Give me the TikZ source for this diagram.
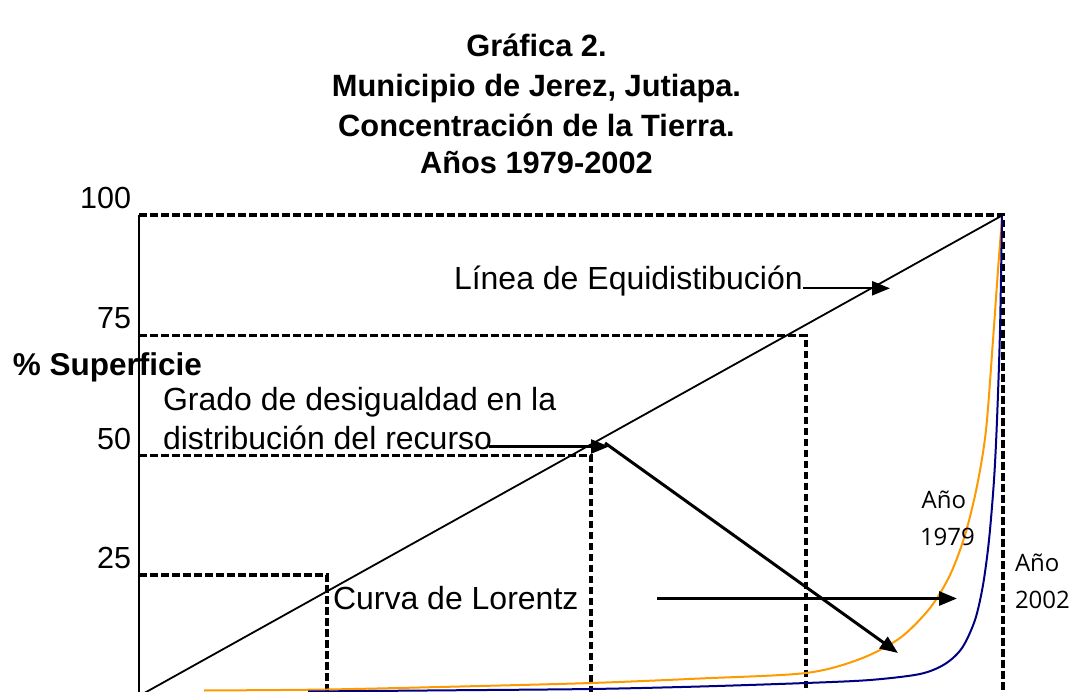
\documentclass[tikz,border=0pt]{standalone}
\usepackage{fontspec}
\setmainfont{Liberation Sans}
\newfontfamily\yearfont{Open Sans}
\usetikzlibrary{arrows.meta}
\definecolor{curveorange}{RGB}{255,153,0}
\definecolor{curveblue}{RGB}{0,0,128}
\begin{document}
\begin{tikzpicture}[x=1pt,y=-1pt,
  lbl/.style={inner sep=0pt, outer sep=0pt, font=\fontsize{32}{38}\selectfont},
  num/.style={inner sep=0pt, outer sep=0pt, anchor=base east, font=\fontsize{30.5}{36}\selectfont},
  ttl/.style={inner sep=0pt, outer sep=0pt, anchor=base, font=\fontsize{30.8}{36}\selectfont\bfseries},
  yr/.style={inner sep=0pt, outer sep=0pt, anchor=base west, font=\yearfont\fontsize{24}{28}\selectfont},
  gridline/.style={line width=3.3pt, dash pattern=on 7.5pt off 3.5pt},
  arr/.style={line width=3pt, -{Triangle[length=18pt,width=14pt]}},
  curve/.style={line width=2pt, line join=round}
]
\useasboundingbox (0,0) rectangle (1073,692);
\clip (0,0) rectangle (1073,692);

% title
\node[ttl] (t1) at (536.5,57) {Gráfica 2.};
\node[ttl] (t2) at (536.5,97) {Municipio de Jerez, Jutiapa.};
\node[ttl] (t3) at (536.5,137) {Concentración de la Tierra.};
\node[ttl] (t4) at (536.5,174) {Años 1979-2002};

% key points
\coordinate (O) at (139,696);
\coordinate (T) at (1003,215);
\coordinate (A) at (139,215);

% dashed guide lines
\draw[gridline] (139,215) -- (1003,215) -- (1003,692);
\draw[gridline] (139,335.7) -- (806,335.7) -- (806,692);
\draw[gridline] (139,455.7) -- (591,455.7) -- (591,692);
\draw[gridline] (139,575) -- (327,575) -- (327,692);

% y axis
\draw[line width=2.8pt] (A) -- (O);

% Lorenz curves
\draw[curve, curveorange] plot[smooth, tension=0.5] coordinates {
  (204,690.5) (327,689.5) (460,686.5) (591,683) (700,678.5) (806,673)
  (860,659) (900,638) (930,608) (950,575) (965,535) (977,486)
  (986,430) (993,340) (998,270) (1002,218)};
\draw[curve, curveblue] plot[smooth, tension=0.5] coordinates {
  (308,691.5) (450,690.3) (591,689) (700,686.5) (806,683) (870,680)
  (920,674) (945,664) (962,648) (975,620) (983,585) (989,540)
  (994,480) (997,420) (1000,330) (1002,215)};

% equidistribution line
\draw[line width=1.8pt] (O) -- (T);

% labels on axis
\node[num] (l100) at (131,209) {100};
\node[num] (l75) at (131,329) {75};
\node[num] (l50) at (131,449) {50};
\node[num] (l25) at (131,568) {25};
\node[inner sep=0pt, anchor=base west, font=\fontsize{31.5}{36}\selectfont\bfseries] (ylab) at (12.7,375) {\% Superficie};

% texts
\node[lbl, anchor=base west] (equi) at (454,290) {Línea de Equidistibución};
\node[lbl, anchor=base west] (grado1) at (163,410) {Grado de desigualdad en la};
\node[lbl, anchor=base west] (grado2) at (163,449) {distribución del recurso};
\node[lbl, anchor=base west] (lorentz) at (333,609) {Curva de Lorentz};

\node[yr] (y79a) at (921.7,508) {Año};
\node[yr] (y79b) at (920,545.7) {1979};
\node[yr] (y02a) at (1015,571.7) {Año};
\node[yr] (y02b) at (1015,608) {2002};

% arrows
\coordinate (e1) at (803,288.3);
\coordinate (e2) at (890,288.3);
\draw[arr, line width=2.4pt] (e1) -- (e2);

\coordinate (g1) at (489,446.5);
\coordinate (g2) at (609,446.5);
\draw[arr, line width=2.4pt] (g1) -- (g2);

\coordinate (d1) at (605,443);
\coordinate (d2) at (898,653);
\draw[arr] (d1) -- (d2);

\coordinate (c1) at (657,598.5);
\coordinate (c2) at (957,598.5);
\draw[arr] (c1) -- (c2);
\end{tikzpicture}
\end{document}
